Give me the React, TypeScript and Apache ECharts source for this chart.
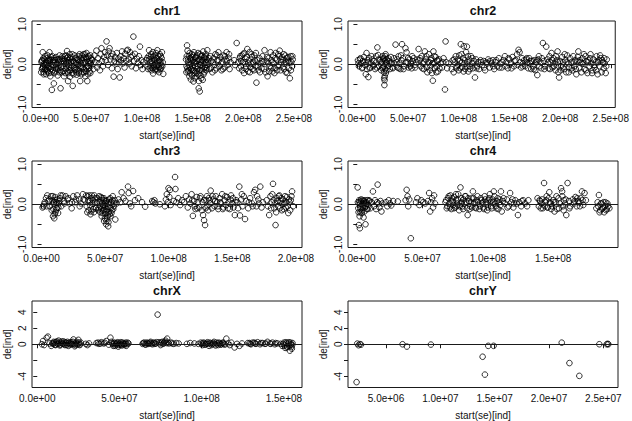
import { useEffect, useRef } from "react";
import * as echarts from "echarts";

// ---- data: [position (Mb), de] ----
const chr1: [number, number][] = [
  [0.8,0.05],[1.2,-0.12],[1.5,0.1],[2,0.3],[2.3,-0.05],[2.8,-0.2],[3.2,0.02],[3.6,0.12],[4,-0.15],[4.5,-0.08],[5,0.04],[5.4,-0.25],[6,0.15],[6.5,-0.02],[7,-0.18],[7.5,0.08],[8,-0.1],[8.6,0.3],[9,0.02],[9.5,-0.3],[10,0.12],
  [10.5,-0.05],[11,-0.64],[11.5,0.2],[12,-0.15],[12.6,0.05],[13,-0.48],[13.5,-0.22],[14,0.1],[14.6,-0.08],[15,0.18],[15.6,-0.12],[16,0.02],[16.8,-0.28],[17.5,0.12],[18,-0.04],[18.6,0.22],[19.2,-0.15],[19.6,-0.6],[20,0.06],
  [20.6,-0.2],[21,0.14],[21.8,-0.05],[22.5,0.08],[23,-0.3],[23.8,0.2],[24.5,-0.12],[25,0.02],[25.6,0.15],[26,0.33],[26.5,-0.18],[27,-0.42],[27.5,0.1],[28,-0.06],[28.6,0.25],[29,-0.31],[29.5,0.05],[30,-0.14],
  [30.5,0.18],[31,-0.22],[31.6,-0.54],[32,0.08],[32.8,-0.08],[33.5,0.22],[34,-0.15],[34.8,0.04],[35.5,-0.26],[36,0.12],[36.8,-0.02],[37.5,0.2],[38,-0.18],[38.6,0.06],[39,-0.42],[39.5,0.15],[40,-0.08],
  [40.6,0.22],[41.2,-0.2],[41.8,0.03],[42.5,0.16],[43,-0.12],[43.6,0.25],[44,-0.3],[44.6,0.05],[45,-0.18],[45.5,0.12],[46,-0.42],[46.5,-0.05],[47,0.2],[47.8,-0.1],[48.5,0.08],[49,-0.22],[49.6,0.15],[50,-0.03],
  [0.5,-0.2],[1,0.08],[1.8,-0.1],[2.6,0.15],[3,-0.25],[3.8,-0.02],[4.3,0.2],[4.8,-0.12],[5.7,0.06],[6.2,-0.15],[6.8,0.22],[7.3,-0.06],[7.8,0.12],[8.3,-0.22],[9.2,0.1],[9.8,-0.12],[10.3,0.18],[10.8,-0.2],[11.8,-0.02],[12.3,0.1],[13.2,0.15],[14.3,-0.18],[15.3,-0.02],[16.4,0.12],[17.2,-0.1],[17.8,0.05],[18.3,-0.2],[19,0.12],[20.3,-0.08],[21.4,0.2],[22.2,-0.18],[22.8,0.02],[23.4,0.12],[24.2,-0.22],[24.8,0.22],[25.3,-0.05],[26.2,0.05],[26.8,0.18],[27.2,-0.22],[27.8,0.02],[28.3,-0.15],[29.2,0.15],[29.8,-0.08],[30.2,0.05],[30.8,-0.05],[31.3,0.25],[32.4,-0.25],[33,0.05],[33.8,-0.1],[34.4,0.15],[35,-0.2],[35.8,0.02],[36.4,-0.12],[37,0.1],[37.8,-0.22],[38.3,0.25],[39.2,-0.05],[39.8,0.02],[40.3,-0.25],[41,0.1],[41.5,-0.08],[42.2,0.25],[42.8,-0.2],[43.3,0.05],[44.3,0.18],[44.8,-0.1],[45.2,0.28],[45.8,-0.05],[46.3,0.15],[46.8,-0.25],[47.4,0.05],[48.2,-0.18],[48.8,0.22],[49.3,0.02],[50.5,0.12],
  [51,0.1],[52,-0.12],[53,0.22],[54,0.05],[55,0.34],[55.8,-0.08],[56.5,0.15],[57.5,0.02],[58.5,-0.15],[59.2,0.25],[60,0.4],[60.5,0.08],
  [61.5,-0.05],[62.5,0.18],[63.5,0.3],[64.2,0.1],[65,0.57],[65.8,0.22],[66.5,-0.02],[67.2,0.32],[68,0.4],[68.8,0.12],[69.5,0.2],[70.3,-0.1],[71,0.26],[72,-0.31],[72.8,0.08],[73.5,0.18],[74.5,0.02],[75.2,0.28],[76,-0.12],[76.8,0.14],[77.5,0.05],[78,-0.33],[78.8,0.2],[79.5,0.1],
  [80.3,0.32],[81,0.02],[82,0.15],[82.8,-0.08],[83.5,0.26],[84.3,0.08],[85,0.34],[86,0.36],[86.8,0.12],[87.5,0.02],[88.2,0.3],[89,0.18],[89.8,-0.05],[90.5,0.22],[91.5,0.69],[92.2,0.08],[93,0.26],[94,-0.1],[95,0.14],[96,0.04],[97,0.2],[98,0.44],[98.8,-0.02],[99.5,0.1],[100.5,-0.12],[101.5,0.06],
  [104.5,0.1],[105.5,-0.05],[106.5,0.2],[107,0.35],[107.6,-0.1],[108.2,0.05],[108.8,0.18],[109.4,-0.15],[110,0.02],[110.6,0.3],[111,-0.23],[111.6,0.1],[112.2,-0.08],[112.8,0.22],[113.4,0.04],[114,-0.12],[114.6,0.15],[115.2,0.35],[115.8,-0.02],[116.4,0.08],[117,-0.2],[117.6,0.25],[118.2,0.05],[118.8,-0.1],[119.4,0.15],[120,-0.05],[121,-0.24],
  [105,0.15],[106,-0.12],[107.3,0.12],[108.5,-0.05],[109.1,0.25],[109.7,0.08],[110.3,-0.1],[111.3,0.2],[111.9,-0.02],[112.5,0.12],[113.1,-0.15],[113.7,0.28],[114.3,-0.05],[115,0.05],[115.5,-0.15],[116.1,0.2],[116.7,-0.08],[117.3,0.1],[117.9,-0.12],[118.5,0.2],[119.1,-0.02],[119.7,0.3],[120.5,0.05],
  [143.5,0.12],[144,-0.05],[144.5,0.47],[145,0.34],[145.3,-0.18],[145.8,0.05],[146.3,0.2],[146.8,-0.3],[147.2,-0.08],[147.8,0.15],[148.3,-0.38],[148.8,0.02],[149.3,0.25],[149.8,-0.15],[150.3,0.1],[150.8,-0.43],[151.3,0.3],[151.8,-0.22],[152.3,0.05],[152.8,-0.05],[153.3,0.18],[153.8,-0.3],[154.3,0.08],[154.8,-0.12],[155.3,0.28],[155.8,-0.25],[156,-0.6],[156.5,0.12],[157,-0.68],[157.5,-0.02],[158,0.2],[158.5,-0.35],[159,0.1],[159.5,-0.15],[160,-0.39],[160.5,0.32],[161,0.02],[161.5,-0.2],[162,0.15],[162.5,-0.08],[163,0.25],[163.5,0.05],[164,-0.1],[164.5,0.35],
  [143.8,-0.2],[144.2,0.2],[144.8,-0.1],[145.5,0.12],[146,-0.15],[146.5,-0.02],[147,0.28],[147.5,-0.22],[148,0.1],[148.5,-0.12],[149,0.18],[149.5,-0.28],[150,-0.05],[150.5,0.22],[151,-0.15],[151.5,0.05],[152,-0.35],[152.5,0.15],[153,-0.18],[153.5,0.02],[154,-0.22],[154.5,0.22],[155,-0.05],[155.5,0.1],[156.2,-0.42],[156.8,-0.15],[157.3,0.25],[157.8,-0.28],[158.3,0.05],[158.8,-0.1],[159.3,0.22],[159.8,-0.05],[160.3,0.1],[160.8,-0.25],[161.3,0.18],[161.8,-0.08],[162.3,0.05],[162.8,0.2],[163.3,-0.15],[163.8,0.12],[164.3,-0.02],
  [165.5,0.05],[166.5,-0.12],[167.5,0.2],[168.5,0.08],[169.5,-0.2],[170.5,0.15],[171.5,-0.02],[172.5,0.25],[173.5,-0.1],[174.5,0.1],[175.5,0.3],[176.5,-0.05],[177.5,0.18],[178.5,-0.15],[179.5,0.06],[180.5,0.22],[181.5,-0.08],[182.5,0.12],[183.5,0.3],[184.5,-0.02],[185.5,0.16],[186.5,-0.12],[187.5,0.05],
  [166,0.15],[168,-0.1],[170,0.05],[172,-0.15],[174,0.22],[176,0.1],[178,0.02],[180,-0.12],[182,0.2],[184,0.08],[186,0.25],
  [191,0.1],[192,-0.02],[193.5,0.53],[195,0.05],[196,-0.1],[197,0.2],[198,0.08],[199,-0.15],[200,0.25],[200.8,-0.22],[201.5,0.05],[202.2,0.14],[203,-0.05],[204,0.38],[204.8,-0.18],[205.5,0.1],[206.2,0.3],[207,-0.08],[207.8,0.02],[208.5,0.18],[209.2,-0.12],[210,0.06],[211,0.22],[212,-0.05],[213,-0.46],[214,0.1],[215,-0.15],[216,0.15],[217,0.02],[218,-0.1],[219,0.2],[220,0.05],[221,0.35],[222,-0.2],
  [196.5,0.15],[197.5,-0.05],[198.5,0.22],[199.5,0.05],[201,0.28],[202.6,-0.12],[203.5,0.18],[205,0.02],[206.6,-0.2],[208,0.25],[209.6,0.02],[210.5,-0.15],[211.5,0.1],[212.5,0.28],[214.5,-0.05],[216.5,-0.2],[218.5,0.08],[220.5,-0.12],
  [223,0.08],[224,-0.3],[225,0.15],[226,-0.05],[227,0.3],[228,0.1],[228.8,-0.18],[229.5,0.22],[230.3,0.02],[231,-0.1],[232,0.28],[233,0.12],[234,-0.05],[235,0.2],[236,0.34],[236.8,-0.15],[237.5,0.05],[238.3,0.18],[239,-0.08],[240,0.25],[241,0.02],[242,-0.2],[243,0.15],[244,0.08],[245,-0.1],[246,-0.35],[246.8,0.2],[247.5,0.05],[248.2,-0.05],[248.8,0.12],
  [223.5,0.18],[224.5,0.02],[225.5,-0.18],[227.5,-0.1],[229,0.05],[230.8,-0.22],[231.5,0.15],[233.5,-0.15],[234.5,0.25],[235.5,-0.02],[237,0.12],[239.5,0.1],[240.5,-0.12],[241.5,0.22],[242.5,0.05],[243.5,-0.22],[244.5,0.18],[245.5,0.05],[247,-0.15],[248.5,0.2],
];

const chr2: [number, number][] = [
  [0.5,0.1],[1.5,-0.05],[2.5,0.12],[3.5,0.02],[4.5,-0.1],[5.5,0.08],[6.5,0.18],[7.5,-0.02],[8.3,-0.25],[9,0.28],[9.5,-0.12],[10.2,0.05],[10.8,-0.32],[11.5,0.15],[12.5,-0.08],[13.5,0.04],[14.5,0.12],[15.5,-0.05],[16.5,0.08],[17.5,-0.12],[18.5,0.2],[19.7,0.42],[20.5,0.23],[21.5,-0.05],[22.5,0.1],[23.5,-0.15],
  [24.2,0.05],[24.8,0.2],[25.3,-0.08],[25.8,0.15],[26.2,-0.2],[26.6,-0.52],[26.8,-0.4],[27,-0.3],[27.2,0.1],[27.5,-0.12],[27.8,0.25],[28.2,0.02],[28.6,-0.15],[29,0.12],[30,-0.05],[31,0.08],[32,-0.12],[33,0.18],[34,0.02],[35,-0.1],[36,0.15],[37.6,0.49],[38.5,0.05],[39.5,-0.08],[40.5,0.2],[41.5,0.02],[42.5,-0.12],[43.5,0.1],[44,0.5],[45,0.15],[46,-0.05],[47.4,0.4],[48.5,0.3],[49.5,0.05],
  [1,0.02],[3,0.15],[5,-0.08],[7,0.05],[9.8,0.1],[12,-0.1],[14,0.2],[16,-0.02],[19,-0.08],[21,0.12],[23,0.05],[24.5,-0.1],[25.5,0.12],[26,-0.05],[26.4,-0.35],[27.4,0.2],[28,-0.22],[28.8,0.05],[30.5,0.15],[32.5,0.02],[34.5,-0.08],[36.5,0.02],[39,0.12],[41,-0.1],[43,0.22],[45.5,-0.12],[48,0.05],
  [50.5,-0.08],[51.5,0.12],[52.5,0.02],[53.5,-0.1],[54.5,0.08],[55.5,0.15],[56.5,-0.02],[58,0.05],[60.4,0.38],[61.5,0.1],[62.5,-0.05],[63.5,0.2],[64.5,0.02],[65.5,-0.12],[66.5,0.32],[67.5,0.12],[68.5,-0.08],[69.5,0.05],[70.5,0.25],[71.5,-0.15],[72.5,0.1],[73.5,-0.22],[74.4,-0.41],[75,0.32],[75.8,0.02],[76.5,-0.1],[77.2,0.18],[78,-0.05],[78.8,0.08],[79.5,-0.18],[80.5,0.12],[82,0.02],[83.5,-0.08],[85,0.15],[86.4,-0.63],[87,0.57],[87.5,0.05],[88.5,-0.1],[90,0.02],
  [50,0.15],[52,-0.05],[54,0.2],[57,-0.08],[59,0.12],[62,0.15],[64,-0.1],[66,0.05],[68,0.2],[69,-0.2],[71,0.05],[72,-0.05],[73,0.15],[74,0.02],[76,0.2],[77.8,-0.2],[79,0.1],[81,-0.1],[84,0.05],
  [93,-0.12],[94,0.1],[95,-0.2],[96,0.05],[97,0.2],[98,-0.05],[99,0.12],[100,-0.15],[101,0.08],[102,0.5],[102.8,0.25],[103.5,-0.08],[104.2,0.15],[105,0.45],[105.8,0.02],[106.5,-0.12],[107.2,0.3],[108,0.44],[108.8,0.05],[109.5,-0.18],[110.3,0.12],[111,-0.05],[112,0.2],[113,0.02],[114,-0.1],[115,0.08],[116,-0.33],[117,0.12],[118,-0.05],[119,0.05],[120,-0.12],[121.5,0.1],[123,-0.02],[124.5,0.08],[126,-0.15],[127.5,0.05],[129,0.12],[130.5,-0.08],[132,0.02],[133.5,0.1],[135,-0.12],[136.5,0.05],[138,-0.05],[139.5,0.15],[141,0.02],
  [95.5,0.12],[97.5,-0.1],[99.5,-0.02],[100.5,0.22],[101.5,-0.1],[103,0.05],[104.8,-0.18],[106,0.1],[107.8,-0.05],[109,0.2],[110.8,-0.12],[113.5,0.15],[117.5,-0.1],[122,0.05],[125,-0.08],[128,0.02],[131,0.08],[134,-0.05],[137,0.1],[140,-0.08],
  [142.5,-0.08],[144,0.1],[145.5,0.2],[147,0.05],[148.5,-0.1],[150,0.12],[151.5,0.02],[153,0.18],[154.5,-0.05],[156,0.1],[157.5,0.25],[159,0.36],[160,0.3],[160.8,0.05],[161.5,-0.08],[162.5,0.15],[163.5,0.02],[164.5,0.1],[165.5,-0.05],[166.5,0.12],[167.5,0.05],[168.5,-0.1],[169.5,0.15],[170.5,0.02],[171.5,-0.12],[172.5,0.08],[173.5,-0.05],[174.5,0.1],[175.5,-0.15],[176.5,0.05],[177.5,-0.27],[178.5,0.12],[179.5,-0.05],[180.5,0.05],[181.5,-0.1],[183,0.53],[184,0.08],[185,-0.05],[186.3,0.44],
  [143,0.05],[146,-0.05],[149,0.15],[152,-0.1],[155,0.08],[158,-0.02],[163,-0.05],[167,0.15],[171,0.08],[174,-0.12],[177,0.1],[179,0.2],[182,0.15],[184.5,-0.12],
  [187.5,0.12],[188.5,-0.1],[189.5,0.2],[190.5,0.05],[191.5,0.28],[192.5,-0.08],[193.5,0.15],[194.5,0.02],[195.5,-0.15],[196.5,0.1],[197.5,0.32],[198.3,-0.2],[199,-0.33],[200,0.08],[201,-0.05],[202,0.18],[203,0.05],[204,-0.12],[205,0.1],[206,-0.2],[207,0.22],[208,0.02],[209,-0.08],[210,0.15],[211,0.05],[212,-0.15],[213,0.2],[214,-0.05],[215,0.1],[216,-0.25],[217,0.08],[218,0.32],[219,-0.1],
  [188,0.05],[190,-0.12],[192,0.1],[194,-0.05],[196,0.2],[198,0.05],[200.5,-0.15],[202.5,-0.08],[204.5,0.25],[206.5,0.05],[208.5,-0.2],[211.5,-0.1],[213.5,0.05],[215.5,-0.12],[217.5,0.18],[219.5,0.1],
  [220,0.05],[221,-0.2],[222,0.15],[223,0.02],[224,-0.12],[225,0.2],[226,0.08],[227,-0.22],[228,0.1],[229,-0.05],[230,0.25],[231,0.02],[232,-0.15],[233,0.12],[234,-0.08],[235,0.05],[236,0.2],[237,-0.25],[238,0.1],[239,-0.05],[240,0.15],[241,-0.2],[242,0.05],[243,-0.1],[244,0.02],[245,-0.22],[246,0.12],
  [221.5,0.02],[223.5,0.25],[225.5,-0.15],[227.5,0.05],[229.5,0.15],[231.5,-0.22],[233.5,-0.02],[235.5,-0.15],[237.5,0.05],[239.5,0.22],[241.5,0.1],[243.5,0.15],[245.5,-0.05],
];

const chr3: [number, number][] = [
  [0.8,-0.08],[1.5,-0.05],[2.5,0.05],[3.5,0.15],[4.5,0.22],[5.5,0.08],[6.5,-0.05],[7.5,0.2],[8,-0.15],[8.5,0.1],[9,-0.3],[9.5,0.02],[10,-0.35],[10.5,0.18],[11,-0.2],[11.5,0.05],[12,-0.1],[12.5,0.12],[13,-0.22],[13.5,0.02],[14.5,0.15],[15.5,-0.05],[16.5,0.22],[17.5,0.08],
  [2,0],[4,-0.05],[6,0.12],[8.8,0.2],[9.3,-0.12],[9.8,0.05],[10.3,-0.25],[10.8,0.1],[11.3,-0.15],[12.2,0.02],[13.2,-0.08],[14,0.08],[15,0.22],[18,0.02],[21,0.15],[24,0.05],[27,0.12],[30,-0.05],[33,0.12],
  [19,0.2],[20.5,0.12],[22,0.02],[23.7,-0.1],[25,0.2],[26.5,0.05],[28,0.22],[29.5,0.12],[31,0.02],[32.5,0.25],[34,0.1],[35.5,-0.05],[36.3,0.2],[37,-0.15],[37.8,0.08],[38.5,-0.25],[39.2,0.15],[40,0.02],[40.7,-0.12],[41.5,0.22],[42.2,0.05],[43,-0.08],[44,0.15],
  [45,-0.1],[45.6,0.05],[46.2,-0.2],[46.8,0.18],[47.3,-0.3],[47.8,0.02],[48.3,-0.15],[48.8,0.1],[49.2,-0.42],[49.6,-0.05],[50,-0.25],[50.4,0.08],[50.8,-0.5],[51.2,-0.12],[51.6,-0.35],[52,0.02],[52.4,-0.55],[52.8,-0.2],[53.2,0.12],[53.7,-0.08],[54.2,-0.3],[54.8,0.05],[55.4,-0.15],[56,0.2],[56.8,-0.05],[57.5,0.1],[58,-0.38],[59,0.02],
  [35,0.22],[36,-0.2],[36.8,0.1],[37.5,0.22],[38.2,-0.02],[39,-0.18],[39.6,0.22],[40.4,0.1],[41.2,-0.2],[42,0.15],[42.6,-0.1],[43.5,0.05],[44.5,-0.15],[45.3,0.2],[46,-0.05],[46.5,0.1],[47,-0.12],[47.6,0.15],[48,-0.22],[48.6,-0.05],[49,0.15],[49.4,-0.15],[49.8,-0.35],[50.2,0.02],[50.6,-0.2],[51,-0.42],[51.4,0.1],[51.8,-0.05],[52.2,-0.28],[52.6,-0.45],[53,0.05],[53.5,-0.25],[54,0.15],[54.5,-0.1],[55,-0.22],[55.7,0.1],[56.4,-0.12],[57,0.02],
  [60.5,0.12],[62,0.05],[63,0.3],[64.5,0.15],[66,0.08],[68,0.44],[68.5,0.28],[69.5,0.02],[70.5,-0.05],[72,0.33],[73.5,0.1],[76,0.15],[79,0.05],[81.5,-0.06],[87,0.08],[88,0.05],[88.8,0.1],[89.5,0.02],[93,0],
  [97,-0.05],[97.8,0.12],[98.5,0.25],[99.2,0.05],[99.8,0.4],[100.5,0.18],[101,0.36],[101.5,-0.02],[104,0.08],[105,0.68],[105.3,0.38],[106,0.05],[107.5,0.15],[109,-0.02],[110.5,0.1],[112,0.05],[113.5,0.2],
  [115,-0.08],[116,0.12],[117,0.02],[118,0.25],[119,-0.29],[120,0.08],[121,-0.12],[122,0.18],[123,0.05],[124,-0.08],[125,0.2],[126,-0.15],[127,-0.27],[127.8,-0.4],[128.6,-0.52],[129.5,0.1],[130.5,-0.05],[131.5,0.15],[132.5,0.02],[133,0.34],[134,-0.1],
  [118.5,0.1],[120.5,-0.05],[122.5,-0.1],[124.5,0.15],[126.5,0.05],[128,0.1],[129,-0.1],[130,0.2],[131,-0.15],[132,0.1],[134.5,0.2],[136.5,0.08],[138.5,-0.05],[140.5,0.05],[142.5,-0.12],[144.5,0.2],[146.5,-0.1],[148.5,0.12],[150.5,0.15],[152.5,0.05],[154.5,-0.1],[157.5,0.25],
  [135,0.12],[136,-0.05],[137,0.2],[138,0.05],[139,-0.12],[140,0.15],[141,0.02],[142,0.25],[143,-0.08],[144,0.1],[145,-0.02],[146,0.18],[147,0.05],[148,-0.12],[149,0.22],[150,0.02],[151,-0.08],[152,-0.27],[153,0.1],[154,0.05],[155.5,0.44],[156,-0.28],[157,0.12],[158,-0.05],[159,0.2],[160,-0.37],
  [161,0.08],[162.5,-0.1],[164,0.15],[165.5,0.02],[167,0.3],[168,0.36],[169,-0.05],[170.5,0.12],[172,0.44],[173,-0.08],[174,0.05],[163,0.05],[166,-0.05],[169.5,0.2],[171,0.02],
  [177,0.1],[178,-0.05],[179,-0.27],[180,0.2],[181,0.05],[182,0.51],[183,-0.1],[184,-0.52],[185,0.15],[186,-0.05],[187,0.22],[188,0.08],[189,-0.15],[190,0.12],[191,0.02],[192,-0.08],[193,0.18],[194,-0.22],[195,0.05],[196,0.1],[197,0.32],[197.8,-0.05],
  [180.5,-0.1],[181.5,0.25],[182.5,0.1],[183.5,0.02],[184.5,-0.2],[185.5,0.08],[186.5,0.2],[187.5,-0.1],[188.5,0.15],[189.5,0.02],[190.5,-0.12],[191.5,0.2],[192.5,0.05],[193.5,-0.05],[194.5,0.12],[195.5,-0.15],[196.5,0.2],
];

const chr4: [number, number][] = [
  [0.3,0.42],[0.8,-0.1],[1.2,-0.52],[1.6,0.05],[2,-0.6],[2.4,-0.2],[2.8,0.08],[3.2,-0.05],[3.7,-0.15],[4.2,0.1],[4.8,-0.33],[5.3,0.02],[5.8,-0.08],[6.3,-0.5],[6.8,0.05],[7.3,-0.12],[7.8,0.1],[8.5,-0.02],[9.2,0.08],[10,-0.1],[11,0.05],[12,0.32],[12.8,-0.05],[13.6,0.1],[14.4,-0.12],[15.2,0.05],[15.6,0.49],[16.2,0.02],[17,-0.08],[17.8,0.08],[18.5,-0.18],[19.2,0.02],
  [0.5,0.05],[1,-0.2],[1.4,0.1],[1.8,-0.3],[2.2,0.02],[2.6,-0.12],[3,0.12],[3.5,-0.22],[4,0.02],[4.5,-0.08],[5,0.08],[5.5,-0.18],[6,0.1],[6.5,-0.05],[7,0.02],[8,-0.12],[9,0.1],
  [22,0.05],[23,-0.05],[24,0.1],[25,0.02],[26,-0.03],[27.5,0.08],[31,0.07],[37,0.1],[37.8,0.36],[38.5,0.2],[39,-0.05],[39.8,0.12],[41,-0.85],[45,0.05],[46,0.15],[47.5,-0.02],[49,0.1],[50.5,0.05],[52,0.02],
  [54,0.08],[55,0.28],[55.8,-0.18],[56.5,0.05],[57.3,0.15],[58,-0.08],[58.8,0.22],[59.5,0.02],
  [67.5,0.05],[68.5,-0.1],[69.5,0.15],[70.5,0.02],[71.3,0.22],[72,-0.12],[72.8,0.08],[73.5,-0.02],[74.3,0.18],[75,-0.08],[75.8,0.1],[76.5,0.02],[77.3,0.25],[78,-0.15],[79,0.42],[79.8,0.05],[80.5,-0.05],[81.3,0.12],[82,0.02],[83,0.2],[84,-0.1],[84.5,-0.27],[85.5,0.08],[86.5,-0.05],[87.5,0.15],[88.5,0.32],[89.5,0.02],[90.5,-0.08],[91.5,0.1],[92.5,0.05],
  [68,0.1],[69,-0.05],[70,0.2],[71,-0.08],[72.5,0.15],[73,0.05],[74,-0.1],[75.5,0.25],[76,-0.05],[77,0.12],[78.5,-0.05],[79.5,0.15],[80,0.02],[81,-0.12],[82.5,0.2],[83.5,0.05],[85,0.15],[86,-0.12],[87,0.05],[88,-0.08],[89,0.15],[90,0.05],[91,-0.1],[92,0.2],
  [93.5,-0.12],[94.5,0.15],[95.5,0.02],[96.5,-0.08],[97.5,0.2],[98.5,0.05],[99.5,-0.15],[100.5,0.1],[101.5,0.25],[102.5,-0.05],[103.5,0.12],[104.5,0.32],[105.5,0.02],[106.5,-0.1],[107.5,0.15],[108.5,0.05],[109.5,-0.02],[110,0.32],[110.6,-0.18],
  [94,-0.05],[95,0.1],[96,0.05],[97,-0.12],[98,0.12],[99,0.02],[100,-0.08],[101,0.15],[102,0.05],[103,-0.1],[104,0.05],[105,0.2],[106,-0.05],[107,0.08],[108,-0.12],[109,0.12],
  [111.5,0.08],[113,0.02],[114.5,0.12],[116,-0.05],[117,0.28],[118,0.05],[119.5,-0.08],[121,0.1],[122,0.02],[123,-0.27],[124,0.05],[125.5,-0.05],[127,0.1],[128.5,0.02],[130,-0.05],[131,0.1],
  [112,0.15],[115,-0.08],[118.8,0.12],[120,0.02],[126,0.08],
  [138,0.15],[139,-0.05],[140,0.08],[141,0.02],[142,-0.1],[143,0.53],[144,0.05],[145,0.2],[146,-0.08],[147,0.3],[148,0.02],[149,-0.05],[150,0.1],[151,-0.18],[152,0.05],[153,-0.12],[154,0.15],[155,0.02],[156,0.4],[156.8,0.32],[157.5,-0.05],[158.3,0.1],[159,0.02],[160,-0.27],[161,0.53],[162,0.08],[163,-0.05],
  [139.5,0.1],[140.5,-0.1],[141.5,0.12],[143.5,-0.05],[144.5,0.1],[145.5,-0.08],[146.5,0.15],[147.5,0.05],[148.5,-0.12],[150.5,0.05],[152.5,0.2],[154.5,-0.1],[157,0.2],[158,-0.15],[159.5,0.12],[162.5,-0.1],
  [165,0.12],[166,0.02],[167,0.18],[168,-0.05],[169,0.08],[170,0.05],[171,0.15],[172,0.32],[173,-0.02],[174,0.28],[175,0.1],[166.5,0.08],[168.5,0.15],[170.5,-0.05],[172.5,0.1],
  [183,-0.1],[184,0.05],[185,0.23],[186,-0.15],[187,0.02],[188,-0.08],[189,-0.2],[190,0.05],[191,-0.12],[192,-0.05],[193,-0.1],
  [184.5,-0.05],[185.5,-0.2],[186.5,0.02],[187.5,-0.12],[188.5,0.05],[189.5,-0.05],[190.5,-0.15],[191.5,0.02],
];

const chrX: [number, number][] = [
  [2.8,0],[3.5,0.4],[4.2,-0.1],[5.7,0.8],[6.5,0.95],[7.5,0.1],[8.5,-0.2],[9.2,0.15],[10,0.3],[10.8,-0.05],[11.5,0.25],[12.2,0.1],[13,0.45],[13.8,-0.15],[14.5,0.2],[15.3,0.05],[16,0.35],[16.8,-0.1],[17.5,0.15],[18.3,0.3],[19,-0.2],[19.8,0.1],[20.5,0.25],[21.3,0],[22,0.6],[22.8,-0.25],[23.5,0.15],[24.2,0.05],[25,0.55],[25.8,-0.1],[26.5,0.2],
  [9.6,0.05],[10.4,0.2],[11.1,-0.1],[11.9,0.35],[12.6,0],[13.4,0.2],[14.1,-0.05],[14.9,0.35],[15.6,0.1],[16.4,0],[17.1,0.25],[17.9,-0.1],[18.7,0.1],[19.4,0.2],[20.2,-0.05],[20.9,0.1],[21.7,0.3],[22.4,0.05],[23.1,-0.1],[23.9,0.3],[24.6,-0.05],[25.4,0.2],[26.1,0],
  [29.5,0.05],[30.5,-0.1],[31.5,0.1],[36,0.15],[37.5,0.05],[39,0.25],[40.5,0.1],[42,0.4],[43.5,-0.05],[44.5,0.82],[45.5,0.1],[46.3,-0.2],[47,0.2],[47.8,-0.05],[48.5,0.15],[49.3,-0.3],[50,0.05],[50.8,0.25],[51.5,-0.15],[52.3,0.1],[53,-0.05],[53.8,0.2],[54.5,0],[55.5,0.1],
  [37,0.2],[38.5,0.1],[41,0.2],[45,0.3],[46,0],[46.7,0.15],[47.4,-0.2],[48.1,0.05],[48.9,0.25],[49.7,-0.1],[50.4,0.1],[51.2,-0.05],[51.9,0.2],[52.7,0],[53.4,0.1],[54.1,-0.2],[55,0.2],
  [64,0.05],[65,0.2],[66,-0.05],[67,0.15],[68,0.1],[69,0.3],[70,0],[71,0.2],[72,0.1],[73.2,3.7],[74,0.25],[75,-0.1],[76,0.3],[77,0.15],[78,0.45],[79,0.7],[80,0.1],[81.5,0.2],[83,0.05],[84.5,0.15],[86,0.1],
  [64.5,0.15],[65.5,0],[66.5,0.2],[67.5,0.05],[68.5,0.2],[69.5,0.1],[70.5,0.15],[71.5,0.05],[72.5,0.25],[74.5,0.1],[75.5,0.2],[76.5,0.05],[77.5,0.3],[78.5,0.15],[79.5,0.2],[82,0.1],
  [91,0.05],[93,0.15],[95.5,0.1],[98,0.05],[99.5,0.2],[100.5,-0.1],[101.5,0.15],[102.5,0],[103.5,0.25],[104.5,-0.2],[105.5,0.1],[106.5,0.05],[107.5,0.3],[108.5,-0.15],[109.5,0.1],[110.5,0.2],[111.5,-0.05],[112.5,0.15],[113.5,0.05],[115,0.7],[116,0.1],[117,-0.1],[118,0.2],
  [100,0.05],[101,0.2],[102,-0.05],[103,0.1],[104,0.05],[105,0.2],[106,-0.1],[107,0.15],[108,0],[109,0.2],[110,-0.1],[111,0.1],[112,0],[113,0.2],[114,-0.05],
  [120,-0.4],[121.5,0.05],[123,-0.2],[124.5,0.1],[128,0.15],[129.5,0.05],[131,0.2],[132.5,0.1],[134,0.25],[135.5,0],[137,0.15],[138.5,0.05],[140,0.3],[141.5,0.1],[143,0.2],[144.5,0],[146,0.1],
  [129,0.15],[130,0],[132,0.2],[133,0.05],[136,0.15],[139,0.1],[142,0.05],[145,0.15],
  [148,0.05],[149,-0.2],[150,0.2],[150.8,-0.45],[151.5,0.1],[152.2,-0.3],[153,0.25],[153.6,-0.8],[154.2,0],[154.8,-0.55],[155.2,0.15],
  [149.5,0.05],[150.4,-0.15],[151.2,0.25],[151.8,-0.4],[152.6,0.1],[153.3,-0.2],[154,0.2],[154.5,-0.35],[155,-0.1],
];

const chrY: [number, number][] = [
  [2.29,-4.73],[2.35,0.08],[2.47,-0.12],[2.6,0.02],[2.7,-0.05],[6.52,0.0],[6.92,-0.29],[9.13,-0.04],
  [13.89,-1.56],[14.1,-3.79],[14.41,-0.2],[14.9,-0.2],[21.17,0.2],[21.88,-2.35],[22.79,-3.95],
  [24.63,0],[25.31,0],[25.4,0.05],[25.46,0],
];

// ---- tick values ----
const ticksChr1 = [0, 50, 100, 150, 200, 250];
const ticksChr2 = [0, 50, 100, 150, 200, 250];
const ticksChr3 = [0, 50, 100, 150, 200];
const ticksChr4 = [0, 50, 100, 150];
const ticksChrX = [0, 50, 100, 150];
const ticksChrY = [5, 10, 15, 20, 25];
const yTicksSmall = [-1, -0.5, 0, 0.5, 1];
const yLabelsSmall = [-1, 0, 1];
const yTicksLarge = [-4, -2, 0, 2, 4];
const yLabelsLarge = [-4, 0, 2, 4];

const FONT = "'Liberation Sans', Arial, Helvetica, sans-serif";
const INK = "#111";
const AXIS_FS = 10;

function sci(mb: number): string {
  const v = mb * 1e6;
  if (v === 0) return "0.0e+00";
  const e = Math.floor(Math.log10(Math.abs(v)) + 1e-9);
  const m = v / Math.pow(10, e);
  return m.toFixed(1) + "e+" + String(e).padStart(2, "0");
}

const panels = [
  { name: "chr1", data: chr1, xMin: -8.6, xMax: 258, xTicks: ticksChr1, big: false },
  { name: "chr2", data: chr2, xMin: -9.3, xMax: 254.4, xTicks: ticksChr2, big: false },
  { name: "chr3", data: chr3, xMin: -7.5, xMax: 204.8, xTicks: ticksChr3, big: false },
  { name: "chr4", data: chr4, xMin: -7.1, xMax: 199.6, xTicks: ticksChr4, big: false },
  { name: "chrX", data: chrX, xMin: -3.2, xMax: 161.0, xTicks: ticksChrX, big: true },
  { name: "chrY", data: chrY, xMin: 1.5, xMax: 26.35, xTicks: ticksChrY, big: true },
];

const COL_LEFT = [32, 348];
const ROW_TOP = [21, 161, 301];
const BOX_W = 270;
const BOX_H = 86.5;

export default function App() {
  const ref = useRef<HTMLDivElement>(null);
  useEffect(() => {
    if (!ref.current) return;
    const chart = echarts.init(ref.current, undefined, { renderer: "svg" });
    const grids: any[] = [];
    const xAxes: any[] = [];
    const yAxes: any[] = [];
    const series: any[] = [];
    const graphics: any[] = [];
    panels.forEach((p, i) => {
      const left = COL_LEFT[i % 2];
      const top = ROW_TOP[Math.floor(i / 2)];
      grids.push({
        left, top, width: BOX_W, height: BOX_H,
        show: true, borderColor: "#1a1a1a", borderWidth: 1, backgroundColor: "transparent",
        containLabel: false,
      });
      xAxes.push({
        type: "value", gridIndex: i, min: p.xMin, max: p.xMax,
        axisLine: { show: false },
        splitLine: { show: false },
        axisTick: { show: true, customValues: p.xTicks, length: 4, lineStyle: { color: "#1a1a1a", width: 1 } },
        axisLabel: {
          customValues: p.xTicks, formatter: (v: number) => sci(v),
          fontSize: AXIS_FS, color: INK, fontFamily: FONT, margin: 6,
        },
      });
      const yl = p.big ? 5.4 : 1.08;
      yAxes.push({
        type: "value", gridIndex: i, min: -yl, max: yl,
        axisLine: { show: false },
        splitLine: { show: false },
        axisTick: { show: true, customValues: p.big ? yTicksLarge : yTicksSmall, length: 4, lineStyle: { color: "#1a1a1a", width: 1 } },
        axisLabel: {
          customValues: p.big ? yLabelsLarge : yLabelsSmall,
          formatter: (v: number) => (p.big ? String(v) : v.toFixed(1)),
          rotate: 90, fontSize: AXIS_FS, color: INK, fontFamily: FONT, margin: 5,
        },
      });
      series.push({
        type: "scatter", xAxisIndex: i, yAxisIndex: i, data: p.data,
        symbol: "circle", symbolSize: 5.6,
        itemStyle: { color: "rgba(0,0,0,0)", borderColor: "#000", borderWidth: 1 },
        silent: true,
        markLine: {
          silent: true, symbol: ["none", "none"], label: { show: false },
          lineStyle: { color: "#1a1a1a", width: 1, type: "solid" },
          data: [{ yAxis: 0 }],
        },
      });
      graphics.push({
        type: "text", x: left + BOX_W / 2, y: top - 10,
        style: { text: p.name, fill: INK, font: `bold 12.5px ${FONT}`, align: "center", verticalAlign: "middle" },
      });
      graphics.push({
        type: "text", x: left + BOX_W / 2, y: top + BOX_H + 28,
        style: { text: "start(se)[ind]", fill: INK, font: `${AXIS_FS}px ${FONT}`, align: "center", verticalAlign: "middle" },
      });
      graphics.push({
        type: "text", x: left - 25, y: top + BOX_H / 2, rotation: Math.PI / 2,
        style: { text: "de[ind]", fill: INK, font: `${AXIS_FS}px ${FONT}`, align: "center", verticalAlign: "middle" },
      });
    });
    chart.setOption({
      animation: false,
      backgroundColor: "#fff",
      grid: grids,
      xAxis: xAxes,
      yAxis: yAxes,
      series,
      graphic: graphics,
    });
    return () => chart.dispose();
  }, []);
  return <div ref={ref} style={{ position: "absolute", left: 0, top: 0, width: 632, height: 421 }} />;
}
